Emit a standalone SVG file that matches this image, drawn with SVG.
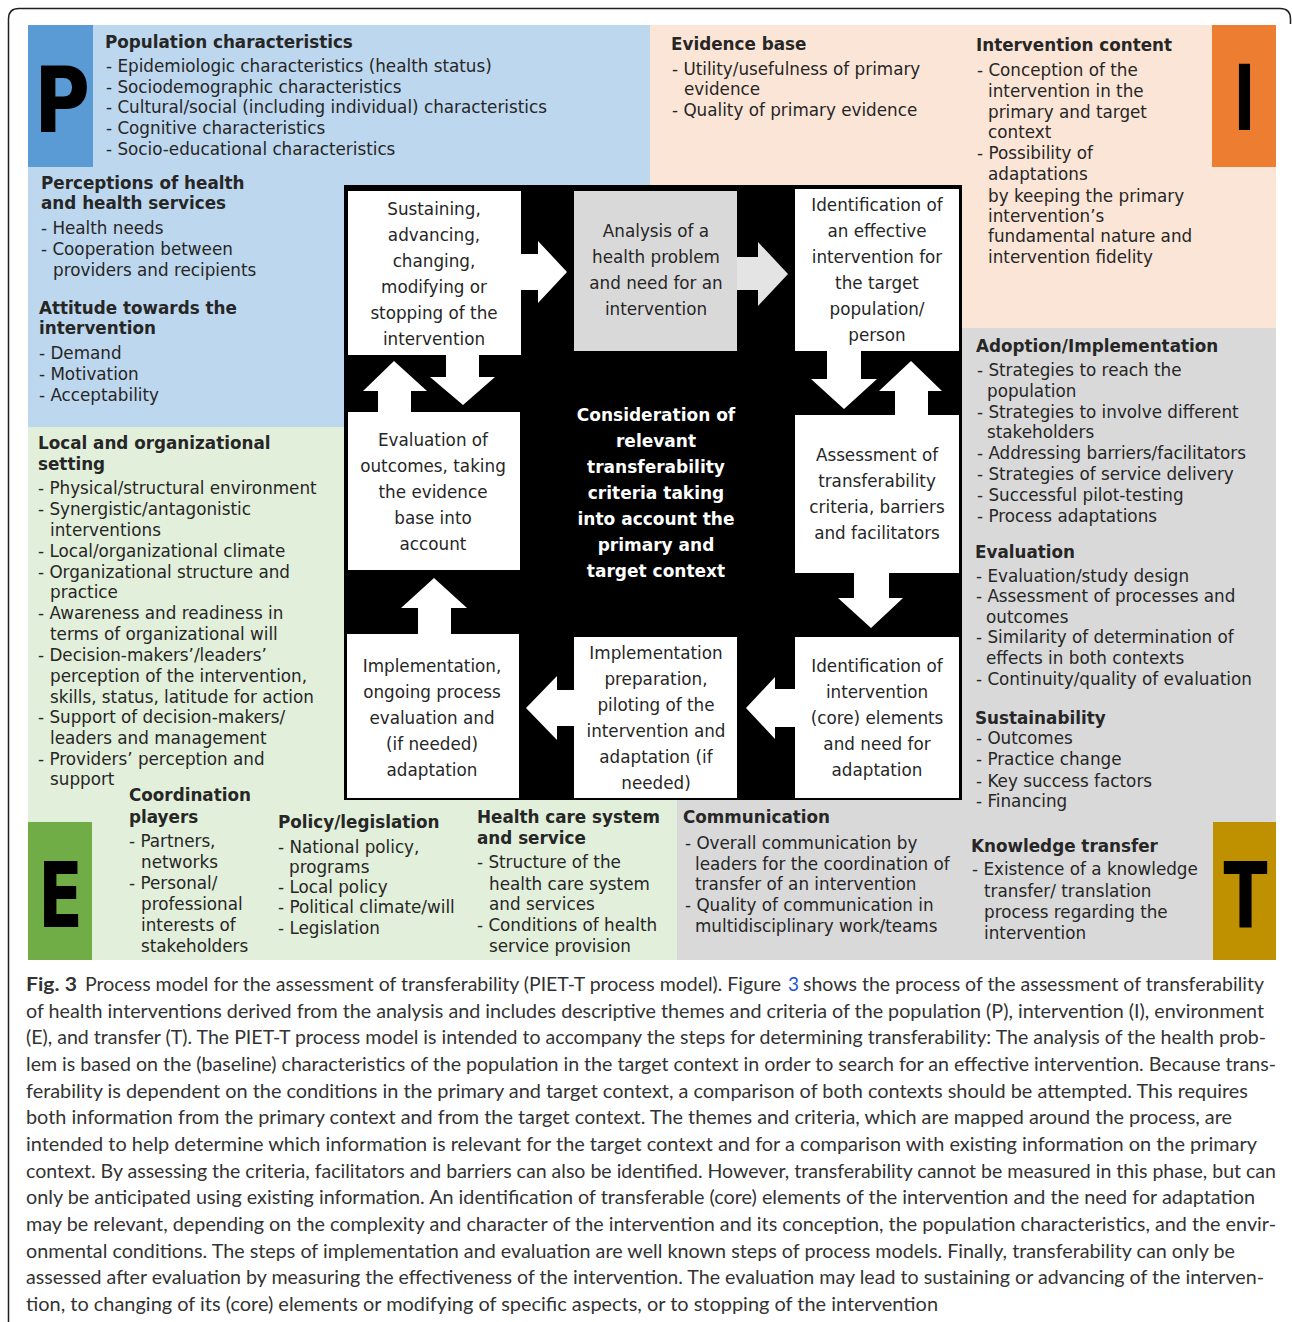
<svg xmlns="http://www.w3.org/2000/svg" width="1292" height="1322" viewBox="0 0 1292 1322">
<style>
.t{font-family:"DejaVu Sans",Verdana,sans-serif;font-size:16.8px;fill:#262626}
.b{font-weight:bold}
.m{text-anchor:middle}
.ct{font-family:"DejaVu Sans",Verdana,sans-serif;font-size:17px;font-weight:bold;fill:#fff;text-anchor:middle}
.big{font-family:"DejaVu Sans",Verdana,sans-serif;font-size:91px;font-weight:bold;fill:#000;text-anchor:middle}
.box{fill:#fff}
.arr{fill:#fff}
.cap{font-family:Lato,"Liberation Sans",sans-serif;font-size:19px;fill:#333}
</style>
<rect width="1292" height="1322" fill="#fff"/>
<path d="M8.5,1330 V19 Q8.5,8.5 19,8.5 H1280 Q1290.5,8.5 1290.5,19 V24" fill="none" stroke="#231f20" stroke-width="1.5"/>

<g id="backgrounds">
<rect x="28" y="25" width="622" height="402" fill="#bdd7ee"/>
<rect x="650" y="25" width="626" height="303" fill="#fbe5d6"/>
<rect x="677" y="328" width="599" height="632" fill="#d9d9d9"/>
<rect x="28" y="427" width="649" height="533" fill="#e2efda"/>
<rect x="28" y="25" width="65" height="142" fill="#5b9bd5"/>
<rect x="1212" y="25" width="64" height="142" fill="#ed7d31"/>
<rect x="28" y="822" width="64" height="138" fill="#70ad47"/>
<rect x="1213" y="822" width="63" height="138" fill="#bf9000"/>
<text class="big" x="62" y="132" textLength="56" lengthAdjust="spacingAndGlyphs">P</text>
<text class="big" x="1244.5" y="130" textLength="22" lengthAdjust="spacingAndGlyphs">I</text>
<text class="big" x="60.5" y="927" textLength="45" lengthAdjust="spacingAndGlyphs">E</text>
<text class="big" x="1245.5" y="927" textLength="44" lengthAdjust="spacingAndGlyphs">T</text>
</g>

<rect id="process-frame" x="344" y="185" width="618" height="615" fill="#000"/>

<g id="connectors">
<polygon class="arr" points="521,254 538,254 538,241 567,272 538,303 538,290 521,290"/>
<polygon points="737,257 758,257 758,242 788,274 758,306 758,290 737,290" fill="#e4e4e4"/>
<polygon class="arr" points="827,351 861,351 861,379 877,379 844,409 811,379 827,379"/>
<polygon class="arr" points="895,415 895,391 879,391 911,361 942,391 928,391 928,415"/>
<polygon class="arr" points="854,573 889,573 889,598 903,598 871,628 838,598 854,598"/>
<polygon class="arr" points="795,689 775,689 775,677 746,708 775,739 775,727 795,727"/>
<polygon class="arr" points="574,690 557,690 557,676 526,708 557,740 557,726 574,726"/>
<polygon class="arr" points="418,634 418,608 401,608 434,578 467,608 451,608 451,634"/>
<polygon class="arr" points="378,412 378,391 363,391 394,361 427,391 411,391 411,412"/>
<polygon class="arr" points="446,355 479,355 479,377 495,377 463,405 430,377 446,377"/>
</g>

<g id="n-sustaining">
<rect class="box" x="348" y="191" width="173" height="164"/>
<text class="t m" x="434" y="215">Sustaining,</text>
<text class="t m" x="434" y="241">advancing,</text>
<text class="t m" x="434" y="267">changing,</text>
<text class="t m" x="434" y="293">modifying or</text>
<text class="t m" x="434" y="319">stopping of the</text>
<text class="t m" x="434" y="345">intervention</text>
</g>
<g id="n-analysis">
<rect x="574" y="191" width="163" height="160" fill="#d9d9d9"/>
<text class="t m" x="656" y="237">Analysis of a</text>
<text class="t m" x="656" y="263">health problem</text>
<text class="t m" x="656" y="289">and need for an</text>
<text class="t m" x="656" y="315">intervention</text>
</g>
<g id="n-identification-effective">
<rect class="box" x="795" y="189" width="164" height="162"/>
<text class="t m" x="877" y="211">Identification of</text>
<text class="t m" x="877" y="237">an effective</text>
<text class="t m" x="877" y="263">intervention for</text>
<text class="t m" x="877" y="289">the target</text>
<text class="t m" x="877" y="315">population/</text>
<text class="t m" x="877" y="341">person</text>
</g>
<g id="n-evaluation">
<rect class="box" x="348" y="412" width="172" height="158"/>
<text class="t m" x="433" y="446">Evaluation of</text>
<text class="t m" x="433" y="472">outcomes, taking</text>
<text class="t m" x="433" y="498">the evidence</text>
<text class="t m" x="433" y="524">base into</text>
<text class="t m" x="433" y="550">account</text>
</g>
<g id="n-center">
<text class="ct" x="656" y="421">Consideration of</text>
<text class="ct" x="656" y="447">relevant</text>
<text class="ct" x="656" y="473">transferability</text>
<text class="ct" x="656" y="499">criteria taking</text>
<text class="ct" x="656" y="525">into account the</text>
<text class="ct" x="656" y="551">primary and</text>
<text class="ct" x="656" y="577">target context</text>
</g>
<g id="n-assessment">
<rect class="box" x="795" y="415" width="164" height="158"/>
<text class="t m" x="877" y="461">Assessment of</text>
<text class="t m" x="877" y="487">transferability</text>
<text class="t m" x="877" y="513">criteria, barriers</text>
<text class="t m" x="877" y="539">and facilitators</text>
</g>
<g id="n-implementation-ongoing">
<rect class="box" x="347" y="634" width="172" height="164"/>
<text class="t m" x="432" y="672">Implementation,</text>
<text class="t m" x="432" y="698">ongoing process</text>
<text class="t m" x="432" y="724">evaluation and</text>
<text class="t m" x="432" y="750">(if needed)</text>
<text class="t m" x="432" y="776">adaptation</text>
</g>
<g id="n-implementation-preparation">
<rect class="box" x="574" y="637" width="163" height="161"/>
<text class="t m" x="656" y="659">Implementation</text>
<text class="t m" x="656" y="685">preparation,</text>
<text class="t m" x="656" y="711">piloting of the</text>
<text class="t m" x="656" y="737">intervention and</text>
<text class="t m" x="656" y="763">adaptation (if</text>
<text class="t m" x="656" y="789">needed)</text>
</g>
<g id="n-identification-core">
<rect class="box" x="795" y="637" width="164" height="161"/>
<text class="t m" x="877" y="672">Identification of</text>
<text class="t m" x="877" y="698">intervention</text>
<text class="t m" x="877" y="724">(core) elements</text>
<text class="t m" x="877" y="750">and need for</text>
<text class="t m" x="877" y="776">adaptation</text>
</g>

<g id="population-characteristics">
<text class="t b" x="105" y="48">Population characteristics</text>
<text class="t" x="106" y="72">- Epidemiologic characteristics (health status)</text>
<text class="t" x="106" y="93">- Sociodemographic characteristics</text>
<text class="t" x="106" y="113">- Cultural/social (including individual) characteristics</text>
<text class="t" x="106" y="134">- Cognitive characteristics</text>
<text class="t" x="106" y="155">- Socio-educational characteristics</text>
</g>
<g id="perceptions">
<text class="t b" x="41" y="189">Perceptions of health</text>
<text class="t b" x="41" y="209">and health services</text>
<text class="t" x="41" y="234">- Health needs</text>
<text class="t" x="41" y="255">- Cooperation between</text>
<text class="t" x="53" y="276">providers and recipients</text>
</g>
<g id="attitude">
<text class="t b" x="39" y="314">Attitude towards the</text>
<text class="t b" x="39" y="334">intervention</text>
<text class="t" x="39" y="359">- Demand</text>
<text class="t" x="39" y="380">- Motivation</text>
<text class="t" x="39" y="401">- Acceptability</text>
</g>
<g id="local-setting">
<text class="t b" x="38" y="449">Local and organizational</text>
<text class="t b" x="38" y="470">setting</text>
<text class="t" x="38" y="494">- Physical/structural environment</text>
<text class="t" x="38" y="515">- Synergistic/antagonistic</text>
<text class="t" x="50" y="536">interventions</text>
<text class="t" x="38" y="557">- Local/organizational climate</text>
<text class="t" x="38" y="578">- Organizational structure and</text>
<text class="t" x="50" y="598">practice</text>
<text class="t" x="38" y="619">- Awareness and readiness in</text>
<text class="t" x="50" y="640">terms of organizational will</text>
<text class="t" x="38" y="661">- Decision-makers’/leaders’</text>
<text class="t" x="50" y="682">perception of the intervention,</text>
<text class="t" x="50" y="703">skills, status, latitude for action</text>
<text class="t" x="38" y="723">- Support of decision-makers/</text>
<text class="t" x="50" y="744">leaders and management</text>
<text class="t" x="38" y="765">- Providers’ perception and</text>
<text class="t" x="50" y="785">support</text>
</g>
<g id="coordination">
<text class="t b" x="129" y="801">Coordination</text>
<text class="t b" x="129" y="823">players</text>
<text class="t" x="129" y="847">- Partners,</text>
<text class="t" x="141" y="868">networks</text>
<text class="t" x="129" y="889">- Personal/</text>
<text class="t" x="141" y="910">professional</text>
<text class="t" x="141" y="931">interests of</text>
<text class="t" x="141" y="952">stakeholders</text>
</g>
<g id="policy">
<text class="t b" x="278" y="828">Policy/legislation</text>
<text class="t" x="278" y="853">- National policy,</text>
<text class="t" x="289" y="873">programs</text>
<text class="t" x="278" y="893">- Local policy</text>
<text class="t" x="278" y="913">- Political climate/will</text>
<text class="t" x="278" y="934">- Legislation</text>
</g>
<g id="health-care">
<text class="t b" x="477" y="823">Health care system</text>
<text class="t b" x="477" y="844">and service</text>
<text class="t" x="477" y="868">- Structure of the</text>
<text class="t" x="489" y="890">health care system</text>
<text class="t" x="489" y="910">and services</text>
<text class="t" x="477" y="931">- Conditions of health</text>
<text class="t" x="489" y="952">service provision</text>
</g>
<g id="communication">
<text class="t b" x="683" y="823">Communication</text>
<text class="t" x="685" y="849">- Overall communication by</text>
<text class="t" x="695" y="870">leaders for the coordination of</text>
<text class="t" x="695" y="890">transfer of an intervention</text>
<text class="t" x="685" y="911">- Quality of communication in</text>
<text class="t" x="695" y="932">multidisciplinary work/teams</text>
</g>
<g id="knowledge-transfer">
<text class="t b" x="971" y="852">Knowledge transfer</text>
<text class="t" x="972" y="875">- Existence of a knowledge</text>
<text class="t" x="984" y="897">transfer/ translation</text>
<text class="t" x="984" y="918">process regarding the</text>
<text class="t" x="984" y="939">intervention</text>
</g>
<g id="evidence-base">
<text class="t b" x="671" y="50">Evidence base</text>
<text class="t" x="672" y="75">- Utility/usefulness of primary</text>
<text class="t" x="684" y="95">evidence</text>
<text class="t" x="672" y="116">- Quality of primary evidence</text>
</g>
<g id="intervention-content">
<text class="t b" x="976" y="51">Intervention content</text>
<text class="t" x="977" y="76">- Conception of the</text>
<text class="t" x="988" y="97">intervention in the</text>
<text class="t" x="988" y="118">primary and target</text>
<text class="t" x="988" y="138">context</text>
<text class="t" x="977" y="159">- Possibility of</text>
<text class="t" x="988" y="180">adaptations</text>
<text class="t" x="988" y="202">by keeping the primary</text>
<text class="t" x="988" y="222">intervention’s</text>
<text class="t" x="988" y="242">fundamental nature and</text>
<text class="t" x="988" y="263">intervention fidelity</text>
</g>
<g id="adoption">
<text class="t b" x="976" y="352">Adoption/Implementation</text>
<text class="t" x="977" y="376">- Strategies to reach the</text>
<text class="t" x="987" y="397">population</text>
<text class="t" x="977" y="418">- Strategies to involve different</text>
<text class="t" x="987" y="438">stakeholders</text>
<text class="t" x="977" y="459">- Addressing barriers/facilitators</text>
<text class="t" x="977" y="480">- Strategies of service delivery</text>
<text class="t" x="977" y="501">- Successful pilot-testing</text>
<text class="t" x="977" y="522">- Process adaptations</text>
</g>
<g id="evaluation">
<text class="t b" x="975" y="558">Evaluation</text>
<text class="t" x="976" y="582">- Evaluation/study design</text>
<text class="t" x="976" y="602">- Assessment of processes and</text>
<text class="t" x="986" y="623">outcomes</text>
<text class="t" x="976" y="643">- Similarity of determination of</text>
<text class="t" x="986" y="664">effects in both contexts</text>
<text class="t" x="976" y="685">- Continuity/quality of evaluation</text>
</g>
<g id="sustainability">
<text class="t b" x="975" y="724">Sustainability</text>
<text class="t" x="976" y="744">- Outcomes</text>
<text class="t" x="976" y="765">- Practice change</text>
<text class="t" x="976" y="787">- Key success factors</text>
<text class="t" x="976" y="807">- Financing</text>
</g>

<g id="caption">
<text class="cap b" x="26" y="991" textLength="51" lengthAdjust="spacingAndGlyphs" fill="#231f20">Fig. 3</text>
<text class="cap" x="85" y="991" textLength="696" lengthAdjust="spacingAndGlyphs">Process model for the assessment of transferability (PIET-T process model). Figure</text>
<text class="cap" x="788" y="991" style="fill:#2255cc">3</text>
<text class="cap" x="803" y="991" textLength="461" lengthAdjust="spacingAndGlyphs">shows the process of the assessment of transferability</text>
<text class="cap" x="26" y="1017.7" textLength="1238" lengthAdjust="spacingAndGlyphs">of health interventions derived from the analysis and includes descriptive themes and criteria of the population (P), intervention (I), environment</text>
<text class="cap" x="26" y="1044.3" textLength="1240" lengthAdjust="spacingAndGlyphs">(E), and transfer (T). The PIET-T process model is intended to accompany the steps for determining transferability: The analysis of the health prob-</text>
<text class="cap" x="26" y="1071" textLength="1250" lengthAdjust="spacingAndGlyphs">lem is based on the (baseline) characteristics of the population in the target context in order to search for an effective intervention. Because trans-</text>
<text class="cap" x="26" y="1097.7" textLength="1222" lengthAdjust="spacingAndGlyphs">ferability is dependent on the conditions in the primary and target context, a comparison of both contexts should be attempted. This requires</text>
<text class="cap" x="26" y="1124.3" textLength="1206" lengthAdjust="spacingAndGlyphs">both information from the primary context and from the target context. The themes and criteria, which are mapped around the process, are</text>
<text class="cap" x="26" y="1151" textLength="1231" lengthAdjust="spacingAndGlyphs">intended to help determine which information is relevant for the target context and for a comparison with existing information on the primary</text>
<text class="cap" x="26" y="1177.7" textLength="1250" lengthAdjust="spacingAndGlyphs">context. By assessing the criteria, facilitators and barriers can also be identified. However, transferability cannot be measured in this phase, but can</text>
<text class="cap" x="26" y="1204.3" textLength="1229" lengthAdjust="spacingAndGlyphs">only be anticipated using existing information. An identification of transferable (core) elements of the intervention and the need for adaptation</text>
<text class="cap" x="26" y="1231" textLength="1250" lengthAdjust="spacingAndGlyphs">may be relevant, depending on the complexity and character of the intervention and its conception, the population characteristics, and the envir-</text>
<text class="cap" x="26" y="1257.7" textLength="1209" lengthAdjust="spacingAndGlyphs">onmental conditions. The steps of implementation and evaluation are well known steps of process models. Finally, transferability can only be</text>
<text class="cap" x="26" y="1284.3" textLength="1238" lengthAdjust="spacingAndGlyphs">assessed after evaluation by measuring the effectiveness of the intervention. The evaluation may lead to sustaining or advancing of the interven-</text>
<text class="cap" x="26" y="1311" textLength="912" lengthAdjust="spacingAndGlyphs">tion, to changing of its (core) elements or modifying of specific aspects, or to stopping of the intervention</text>
</g>
</svg>
